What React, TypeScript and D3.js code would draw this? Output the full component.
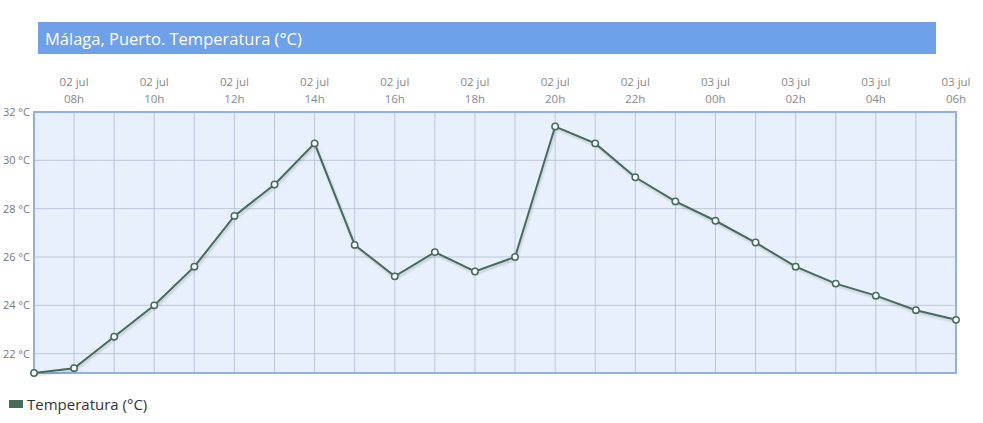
import { useEffect, useRef } from "react";
import * as d3 from "d3";

const HOURS = [
  "07h", "08h", "09h", "10h", "11h", "12h", "13h", "14h", "15h", "16h", "17h", "18h",
  "19h", "20h", "21h", "22h", "23h", "00h", "01h", "02h", "03h", "04h", "05h", "06h",
];
const DAYS = [
  "02 jul", "02 jul", "02 jul", "02 jul", "02 jul", "02 jul", "02 jul", "02 jul",
  "02 jul", "02 jul", "02 jul", "02 jul", "02 jul", "02 jul", "02 jul", "02 jul",
  "02 jul", "03 jul", "03 jul", "03 jul", "03 jul", "03 jul", "03 jul", "03 jul",
];
const TEMPS = [
  21.2, 21.4, 22.7, 24.0, 25.6, 27.7, 29.0, 30.7, 26.5, 25.2, 26.2, 25.4,
  26.0, 31.4, 30.7, 29.3, 28.3, 27.5, 26.6, 25.6, 24.9, 24.4, 23.8, 23.4,
];
const Y_TICKS = [22, 24, 26, 28, 30, 32];

const WIDTH = 983;
const HEIGHT = 423;
const LINE = "#466b5b";
const FONT = "'Open Sans', sans-serif";

export default function App() {
  const svgRef = useRef<SVGSVGElement>(null);

  useEffect(() => {
    const svgEl = svgRef.current;
    if (!svgEl) return;
    const svg = d3.select(svgEl);
    svg.selectAll("*").remove();

    const left = 34;
    const right = 956;
    const top = 112;
    const bottom = 373;

    const x = d3.scaleLinear().domain([0, HOURS.length - 1]).range([left, right]);
    const y = d3.scaleLinear().domain([21.2, 32]).range([bottom, top]);

    // title bar
    svg.append("rect").attr("x", 38).attr("y", 22).attr("width", 898).attr("height", 32).attr("fill", "#6fa0ea");
    svg
      .append("text")
      .attr("x", 45)
      .attr("y", 45)
      .attr("fill", "#ffffff")
      .attr("font-family", FONT)
      .attr("font-size", 16.5)
      .text("Málaga, Puerto. Temperatura (°C)");

    // plot background
    svg
      .append("rect")
      .attr("x", left)
      .attr("y", top)
      .attr("width", right - left)
      .attr("height", bottom - top)
      .attr("fill", "#e8f0fd");

    const grid = svg.append("g").attr("stroke", "#aab5cd").attr("stroke-width", 0.7);
    grid
      .selectAll("line.v")
      .data(d3.range(1, HOURS.length - 1))
      .join("line")
      .attr("x1", (d) => x(d))
      .attr("x2", (d) => x(d))
      .attr("y1", top)
      .attr("y2", bottom);
    grid
      .selectAll("line.h")
      .data(Y_TICKS.slice(0, -1))
      .join("line")
      .attr("x1", left)
      .attr("x2", right)
      .attr("y1", (d) => y(d))
      .attr("y2", (d) => y(d));

    svg
      .append("rect")
      .attr("x", left)
      .attr("y", top)
      .attr("width", right - left)
      .attr("height", bottom - top)
      .attr("fill", "none")
      .attr("stroke", "#92b0e6")
      .attr("stroke-width", 2);

    // y labels
    svg
      .append("g")
      .selectAll("text")
      .data(Y_TICKS)
      .join("text")
      .attr("x", 30)
      .attr("y", (d) => y(d) + 4)
      .attr("text-anchor", "end")
      .attr("fill", "#777")
      .attr("font-family", FONT)
      .attr("font-size", 11)
      .text((d) => `${d} °C`);

    // x labels every 2 hours
    const xLabels = d3.range(1, HOURS.length, 2);
    const xl = svg
      .append("g")
      .selectAll("text")
      .data(xLabels)
      .join("text")
      .attr("text-anchor", "middle")
      .attr("fill", "#888")
      .attr("font-family", FONT)
      .attr("font-size", 11.5);
    xl.append("tspan")
      .attr("x", (d) => x(d))
      .attr("y", 86)
      .text((d) => DAYS[d]);
    xl.append("tspan")
      .attr("x", (d) => x(d))
      .attr("y", 103)
      .text((d) => HOURS[d]);

    const defs = svg.append("defs");
    const filter = defs.append("filter").attr("id", "shadow").attr("x", "-5%").attr("y", "-5%").attr("width", "110%").attr("height", "120%");
    filter.append("feDropShadow").attr("dx", 1).attr("dy", 2).attr("stdDeviation", 1.2).attr("flood-color", "#000").attr("flood-opacity", 0.18);

    const line = d3
      .line<number>()
      .x((_d, i) => x(i))
      .y((d) => y(d));

    svg
      .append("path")
      .datum(TEMPS)
      .attr("d", line)
      .attr("fill", "none")
      .attr("stroke", LINE)
      .attr("stroke-width", 2)
      .attr("filter", "url(#shadow)");

    svg
      .append("g")
      .selectAll("circle")
      .data(TEMPS)
      .join("circle")
      .attr("cx", (_d, i) => x(i))
      .attr("cy", (d) => y(d))
      .attr("r", 3.2)
      .attr("fill", "#fff")
      .attr("stroke", LINE)
      .attr("stroke-width", 1.5);

    // legend
    svg.append("rect").attr("x", 9).attr("y", 400).attr("width", 14).attr("height", 8).attr("fill", LINE);
    svg
      .append("text")
      .attr("x", 27)
      .attr("y", 410)
      .attr("fill", "#333")
      .attr("font-family", FONT)
      .attr("font-size", 15)
      .text("Temperatura (°C)");
  }, []);

  return (
    <div style={{ position: "absolute", left: 0, top: 0 }}>
      <svg ref={svgRef} width={WIDTH} height={HEIGHT} style={{ display: "block" }} />
    </div>
  );
}
